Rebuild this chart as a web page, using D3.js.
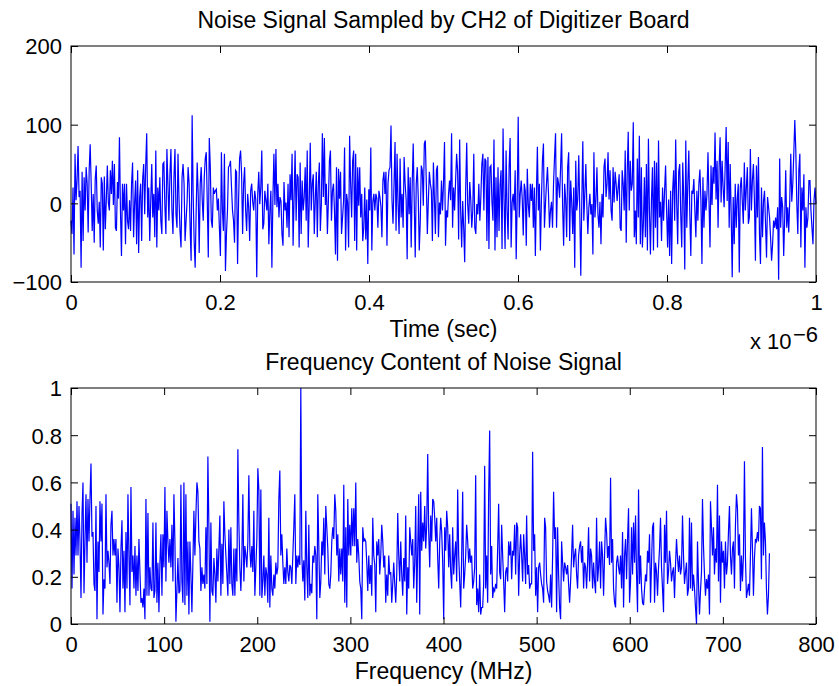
<!DOCTYPE html>
<html>
<head>
<meta charset="utf-8">
<script src="https://cdn.jsdelivr.net/npm/d3@7"></script>
<style>
body { margin: 0; background: #fff; }
text { font-family: "Liberation Sans", Arial, Helvetica, sans-serif; font-size: 22px; fill: #000; }
text.label { font-size: 23px; }
</style>
</head>
<body>
<div id="chart"></div>
<script>
// ---- top panel: noise sampled by CH2 (ADC counts) over a 1 us window
var noiseSignal = [
  -22,-39,20,-65,63,4,29,73,8,16,-82,40,-48,33,-9,46,25,-37,42,75,
  25,-35,12,-50,31,48,-9,-26,2,-56,33,25,-60,34,-33,5,48,1,-9,42,
  12,54,-2,50,-31,-35,27,6,84,-9,-67,25,-9,25,-52,25,-22,-33,4,-35,
  25,52,-43,0,29,-52,42,-63,7,25,-48,31,50,-14,48,89,-18,20,-48,3,
  50,-18,12,-43,67,-56,20,-9,33,-22,-39,50,52,-3,-39,69,25,-22,37,69,
  -9,-39,33,69,-14,-31,63,5,-35,-56,33,50,25,-48,-22,2,46,25,-31,-73,
  112,12,-48,-82,-9,52,12,-63,25,46,4,-22,33,57,65,1,-69,83,46,-22,
  -31,20,12,16,18,-9,6,-31,-67,65,-9,-35,63,-86,-39,-9,46,48,54,20,
  -9,-22,-50,42,40,-77,3,57,67,37,-39,25,
  46,-9,-35,12,-5,-48,16,25,2,-9,16,5,-94,12,40,-1,20,67,-33,-26,
  16,4,-9,25,-52,-9,16,-82,6,63,-2,69,-5,25,-18,8,3,-39,-54,27,
  -9,1,-31,25,-43,37,4,63,-54,8,67,-22,37,33,-56,52,-39,29,-9,7,
  46,-22,67,-56,2,77,-9,25,37,-39,5,40,-43,25,52,-35,-1,89,8,83,
  -2,25,-39,4,54,67,-22,16,25,-9,-65,46,-73,44,6,40,-39,-18,3,71,
  -60,12,1,-56,86,25,-18,54,67,-48,63,-60,46,-3,46,-18,12,-48,-31,20,
  -46,5,-77,18,-9,71,-60,2,12,-9,12,6,-31,16,8,-4,-43,29,40,12,
  40,-54,25,42,46,99,4,-26,25,78,-35,63,-1,-39,57,-18,12,-31,59,25,
  5,-71,46,-14,33,-56,25,76,2,-69,25,46,7,-60,-22,48,42,-3,76,80,
  25,-39,4,40,25,
  16,-48,52,6,-39,42,48,-43,1,-14,29,-9,25,78,-54,-9,-18,12,29,4,
  89,-31,20,-9,29,63,40,-46,81,-9,-56,3,-31,-75,20,77,-2,-26,27,5,
  -31,-9,63,-31,-39,-1,-14,25,-22,8,50,63,-9,57,54,-48,59,-58,46,48,
  2,-22,81,-60,33,-43,46,-35,23,42,-58,95,5,-58,67,-9,-46,46,83,-56,
  1,12,-9,42,-71,4,110,-18,12,29,6,-41,25,16,-54,44,-2,-18,25,3,
  25,-31,20,-67,10,72,-9,25,-60,4,54,76,-31,-1,25,46,12,-31,-9,2,
  -31,25,59,89,-31,33,25,7,46,89,-3,-54,25,5,-43,46,65,-48,29,1,
  -39,20,-82,54,-9,6,61,-9,-92,3,79,-22,12,50,-2,-39,-5,12,-14,-1,
  -65,65,-18,4,46,-14,-31,2,-52,12,-18,46,57,8,25,65,5,42,-9,-22,
  46,1,40,25,3,
  20,37,-31,-35,42,25,-9,67,-50,40,91,-9,54,16,25,103,-43,-9,-52,57,
  -18,86,-52,46,-56,-26,33,-43,50,-60,82,-9,-65,4,46,-60,54,-31,52,-56,
  80,-18,2,-48,20,-22,16,48,-9,-56,5,-67,16,-77,16,42,-22,81,1,-52,
  40,50,-14,-56,52,6,-84,80,-31,25,67,-14,-67,16,12,31,-9,-43,16,-22,
  25,43,3,-77,33,-31,16,-9,12,65,4,-56,48,-2,46,25,90,5,54,-31,
  46,84,1,54,20,-5,46,97,3,78,-31,50,-16,-94,8,-52,25,-31,6,25,
  -88,20,33,2,-26,52,-9,20,46,-26,-18,69,-9,29,50,4,-73,48,-18,59,
  -39,-77,20,-43,3,16,-26,-69,8,-5,-18,-43,-73,-52,-22,-31,-18,-33,-5,-97,
  57,-31,8,-5,-67,-18,42,-31,-5,-37,4,63,2,25,63,106,67,-1,-39,42,
  63,-56,20,-9,37,-82,-5,-31,-18,29,29,-9,-31,-52,3,20,-1
];
var timeSpan = 1e-6;                        // seconds covered by the samples
var timeTicks = [0, 0.2, 0.4, 0.6, 0.8, 1]; // x 10^-6 s
var signalTicks = [-100, 0, 100, 200];

// ---- bottom panel: normalised magnitude of the spectrum, 0 - 750 MHz
var noiseSpectrum = [
  0.51,0.15,0.48,0.21,0.45,0.29,0.52,0.29,0.50,0.35,0.11,0.46,0.60,0.13,0.35,0.55,0.26,0.53,0.35,0.53,
  0.68,0.37,0.39,0.17,0.14,0.50,0.02,0.35,0.22,0.52,0.35,0.51,0.04,0.19,0.15,0.55,0.24,0.31,0.26,0.17,
  0.42,0.48,0.29,0.36,0.29,0.36,0.09,0.32,0.24,0.05,0.32,0.44,0.15,0.31,0.05,0.39,0.15,0.55,0.29,0.08,
  0.58,0.22,0.29,0.15,0.33,0.12,0.29,0.14,0.36,0.22,0.09,0.11,0.07,0.15,0.02,0.53,0.12,0.47,0.12,0.24,
  0.15,0.14,0.43,0.11,0.14,0.43,0.09,0.26,0.05,0.26,0.38,0.12,0.38,0.24,0.58,0.18,0.48,0.35,0.26,0.36,
  0.24,0.42,0.18,0.55,0.35,0.01,0.14,0.28,0.13,0.14,0.59,0.18,0.09,0.60,0.08,0.55,0.12,0.35,0.04,0.35,
  0.21,0.05,0.26,0.48,0.29,0.46,0.60,0.56,0.35,0.32,0.14,0.24,0.17,0.21,0.15,0.41,0.17,0.71,0.41,0.01,
  0.43,0.14,0.12,0.28,0.21,0.09,0.32,0.18,0.32,0.46,0.12,0.34,0.17,0.52,0.38,0.29,0.21,0.12,0.40,0.17,
  0.41,0.17,0.12,0.32,0.12,0.32,0.18,0.74,0.43,0.24,0.14,0.29,0.55,0.18,0.33,0.29,0.24,0.35,0.63,0.32,
  0.24,0.33,0.22,0.48,0.12,0.24,0.36,0.66,0.57,0.12,0.57,0.11,0.18,0.29,0.12,0.24,0.21,0.09,0.45,0.07,
  0.29,0.15,0.12,0.21,0.15,0.26,0.21,0.24,0.53,0.65,0.29,0.38,0.26,0.17,0.24,0.17,0.32,0.22,0.18,0.25,
  0.24,0.17,0.29,0.41,0.55,0.17,0.29,0.24,0.29,0.25,1.00,0.29,0.18,0.27,0.10,0.48,0.24,0.11,0.42,0.12,
  0.17,0.13,0.29,0.26,0.33,0.29,0.02,0.55,0.33,0.11,0.18,0.35,0.29,0.45,0.21,0.50,0.41,0.32,0.17,0.15,
  0.21,0.35,0.41,0.36,0.55,0.48,0.29,0.38,0.18,0.32,0.21,0.32,0.18,0.59,0.09,0.41,0.07,0.53,0.29,0.42,
  0.29,0.49,0.33,0.49,0.33,0.60,0.26,0.36,0.29,0.18,0.15,0.02,0.41,0.35,0.36,0.35,0.26,0.14,0.29,0.17,
  0.25,0.12,0.45,0.29,0.25,0.05,0.35,0.29,0.36,0.21,0.29,0.42,0.35,0.24,0.29,0.09,0.21,0.12,0.29,0.21,
  0.22,0.09,0.17,0.26,0.17,0.09,0.21,0.47,0.29,0.18,0.35,0.21,0.12,0.28,0.18,0.46,0.04,0.24,0.15,0.41,
  0.35,0.29,0.36,0.15,0.26,0.50,0.09,0.32,0.55,0.04,0.56,0.31,0.43,0.35,0.50,0.32,0.42,0.72,0.39,0.24,
  0.46,0.35,0.53,0.52,0.45,
  0.35,0.45,0.28,0.15,0.35,0.45,0.39,0.26,0.02,0.41,0.31,0.48,0.41,0.24,0.38,0.22,0.15,0.41,0.21,0.29,
  0.35,0.18,0.57,0.29,0.18,0.07,0.29,0.56,0.15,0.21,0.29,0.42,0.35,0.26,0.32,0.26,0.29,0.15,0.18,0.24,
  0.63,0.08,0.15,0.05,0.21,0.04,0.07,0.07,0.17,0.67,0.15,0.29,0.09,0.55,0.82,0.21,0.33,0.11,0.15,0.14,
  0.17,0.15,0.32,0.51,0.22,0.19,0.42,0.29,0.18,0.05,0.22,0.24,0.18,0.35,0.29,0.35,0.19,0.31,0.29,0.42,
  0.21,0.43,0.41,0.12,0.29,0.38,0.29,0.18,0.38,0.29,0.17,0.46,0.21,0.25,0.15,0.17,0.17,0.73,0.31,0.38,
  0.12,0.24,0.05,0.24,0.26,0.21,0.17,0.15,0.09,0.45,0.41,0.18,0.14,0.12,0.09,0.21,0.07,0.29,0.56,0.36,
  0.41,0.05,0.41,0.21,0.07,0.02,0.35,0.26,0.18,0.26,0.24,0.21,0.25,0.17,0.09,0.18,0.29,0.42,0.24,0.29,
  0.32,0.21,0.15,0.29,0.33,0.35,0.26,0.33,0.15,0.26,0.24,0.15,0.26,0.41,0.18,0.32,0.29,0.15,0.26,0.18,
  0.13,0.45,0.18,0.24,0.35,0.15,0.35,0.29,0.12,0.29,0.45,0.39,0.28,0.33,0.25,0.62,0.26,0.36,0.15,0.09,
  0.07,0.26,0.29,0.24,0.21,
  0.29,0.15,0.39,0.07,0.29,0.36,0.19,0.36,0.49,0.09,0.18,0.41,0.21,0.43,0.26,0.46,0.21,0.05,0.57,0.17,
  0.29,0.15,0.09,0.08,0.15,0.21,0.18,0.31,0.26,0.38,0.09,0.26,0.41,0.43,0.09,0.26,0.22,0.12,0.24,0.32,
  0.45,0.24,0.15,0.05,0.42,0.26,0.48,0.17,0.22,0.31,0.26,0.18,0.22,0.24,0.11,0.25,0.36,0.28,0.22,0.29,
  0.21,0.24,0.46,0.29,0.17,0.22,0.26,0.12,0.15,0.45,0.15,0.43,0.14,0.21,0.15,0.07,0.00,0.35,0.17,0.04,
  0.14,0.22,0.53,0.33,0.21,0.12,0.19,0.15,0.21,0.04,0.52,0.41,0.29,0.41,0.21,0.32,0.26,0.59,0.18,0.46,
  0.09,0.35,0.26,0.31,0.15,0.35,0.21,0.26,0.39,0.50,0.29,0.21,0.32,0.35,0.15,0.42,0.55,0.49,0.29,0.38,
  0.14,0.29,0.18,0.29,0.69,0.28,0.11,0.14,0.17,0.12,0.29,0.49,0.32,0.12,0.28,0.36,0.35,0.39,0.35,0.50,
  0.49,0.19,0.75,0.29,0.43,0.35,0.15,0.04,0.12,0.30
];
var maxFreq = 750;                          // MHz, last spectrum bin
var freqTicks = [0, 100, 200, 300, 400, 500, 600, 700, 800];
var magTicks = [0, 0.2, 0.4, 0.6, 0.8, 1];

var width = 839, height = 686;
var left = 71, right = 816;

var svg = d3.select("#chart")
    .append("svg")
    .attr("width", width)
    .attr("height", height);

// draws one MATLAB style subplot: boxed axes, ticks pointing inward on all four sides
function drawPanel(p) {
    var x = d3.scaleLinear().domain(p.xDomain).range([left, right]);
    var y = d3.scaleLinear().domain(p.yDomain).range([p.bottom, p.top]);

    var g = svg.append("g");

    // the signal itself
    var step = p.xSpan / (p.values.length - 1);
    var line = d3.line()
        .x(function (d, i) { return x(i * step); })
        .y(function (d) { return y(d); });

    g.append("path")
        .datum(p.values)
        .attr("d", line)
        .attr("fill", "none")
        .attr("stroke", "#0000ff")
        .attr("stroke-width", 1.2);

    var xt = p.xTicks.map(function (v) { return v * p.xTickUnit; });

    var xAxis = g.append("g")
        .attr("transform", "translate(0," + p.bottom + ")")
        .call(d3.axisBottom(x).tickValues(xt).tickSize(-7).tickSizeOuter(0).tickPadding(12)
            .tickFormat(function (d, i) { return String(p.xTicks[i]); }));
    g.append("g")
        .attr("transform", "translate(0," + p.top + ")")
        .call(d3.axisTop(x).tickValues(xt).tickSize(-7).tickSizeOuter(0).tickFormat(""));
    var yAxis = g.append("g")
        .attr("transform", "translate(" + left + ",0)")
        .call(d3.axisLeft(y).tickValues(p.yTicks).tickSize(-7).tickSizeOuter(0).tickPadding(9)
            .tickFormat(function (d) { return d3.format("")(d).replace("-", "\u2212"); }));
    g.append("g")
        .attr("transform", "translate(" + right + ",0)")
        .call(d3.axisRight(y).tickValues(p.yTicks).tickSize(-7).tickSizeOuter(0).tickFormat(""));

    g.selectAll(".domain").remove();
    g.selectAll(".tick line").attr("stroke", "#000");
    yAxis.selectAll(".tick text").attr("dy", "0.36em");
    xAxis.selectAll(".tick text").attr("dy", "0.71em");

    g.append("rect")
        .attr("x", left)
        .attr("y", p.top)
        .attr("width", right - left)
        .attr("height", p.bottom - p.top)
        .attr("fill", "none")
        .attr("stroke", "#000")
        .attr("stroke-width", 1);

    g.append("text")
        .attr("class", "label")
        .attr("x", (left + right) / 2)
        .attr("y", p.top - 18.5)
        .attr("text-anchor", "middle")
        .text(p.title);

    g.append("text")
        .attr("class", "label")
        .attr("x", (left + right) / 2)
        .attr("y", p.bottom + 55)
        .attr("text-anchor", "middle")
        .text(p.xLabel);

    return g;
}

drawPanel({
    top: 46, bottom: 282,
    values: noiseSignal,
    xSpan: timeSpan,
    xDomain: [0, timeSpan],
    xTicks: timeTicks, xTickUnit: 1e-6,
    yDomain: [-100, 200], yTicks: signalTicks,
    title: "Noise Signal Sampled by CH2 of Digitizer Board",
    xLabel: "Time (sec)"
});

// exponent note under the time axis
svg.append("text").attr("x", 750).attr("y", 349).text("x 10");
svg.append("text").attr("x", 793).attr("y", 342).text("\u22126");

drawPanel({
    top: 388, bottom: 624,
    values: noiseSpectrum,
    xSpan: maxFreq,
    xDomain: [0, 800],
    xTicks: freqTicks, xTickUnit: 1,
    yDomain: [0, 1], yTicks: magTicks,
    title: "Frequency Content of Noise Signal",
    xLabel: "Frequency (MHz)"
});
</script>
</body>
</html>
